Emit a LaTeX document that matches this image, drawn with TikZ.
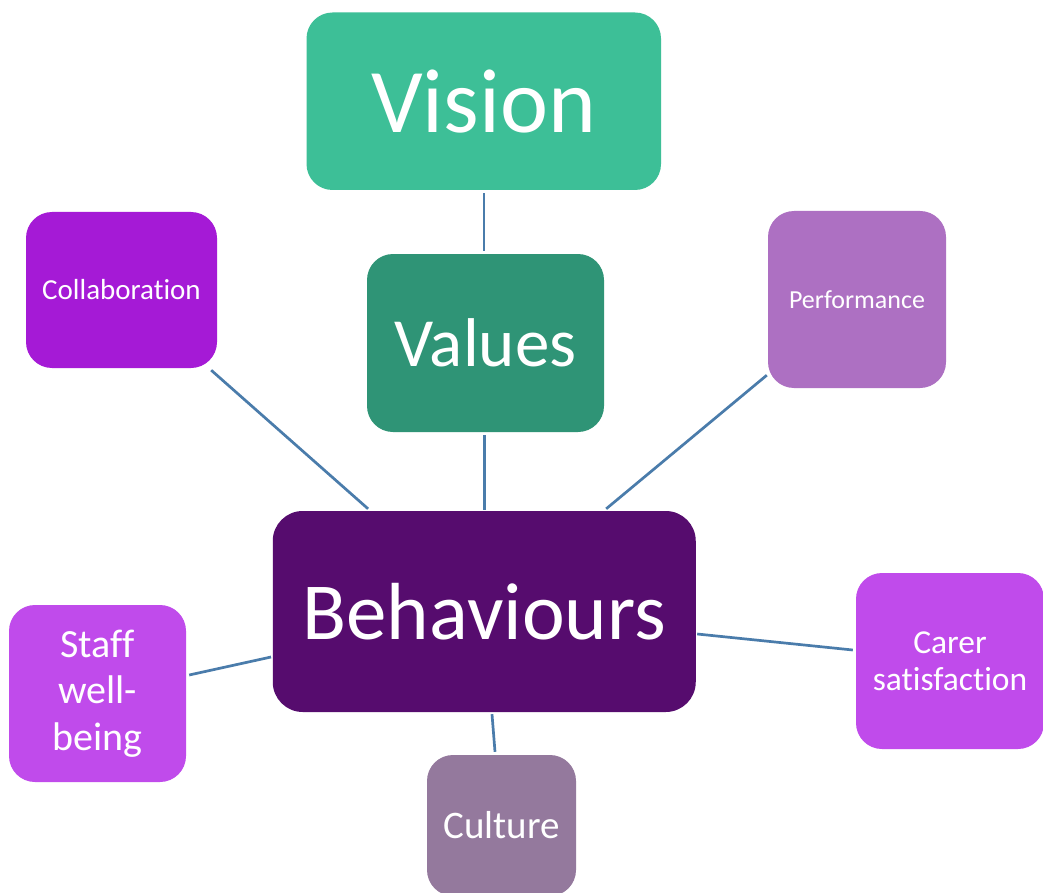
\documentclass[tikz,border=0pt]{standalone}
\usepackage{fontspec}
\setmainfont{Carlito}[Ligatures=NoCommon]
\usetikzlibrary{calc}

\definecolor{visionc}{HTML}{3DBF97}
\definecolor{valuesc}{HTML}{2F9476}
\definecolor{collabc}{HTML}{A51AD6}
\definecolor{perfc}{HTML}{AD70C2}
\definecolor{behc}{HTML}{560C6E}
\definecolor{brightc}{HTML}{C04BEB}
\definecolor{culturec}{HTML}{94799D}
\definecolor{linkc}{HTML}{4A7CAB}

\tikzset{
  card/.style={rounded corners=26pt, inner sep=0pt, text=white, align=center},
  link/.style={draw=linkc, line width=2.7pt},
}

\begin{document}
\begin{tikzpicture}[x=1pt, y=-1pt]
  \clip (0,0) rectangle (1043,893);
  \fill[white] (0,0) rectangle (1043,893);

  % central boxes
  \node[card, fill=visionc, minimum width=354.5pt, minimum height=177.5pt,
        font=\fontsize{91}{100}\selectfont] (vision) at (483.75,101.25) {Vision};
  \node[card, fill=valuesc, minimum width=237pt, minimum height=178pt,
        font=\fontsize{69}{76}\selectfont] (values) at (485.5,343) {Values};
  \node[card, rounded corners=30pt, fill=behc, minimum width=423pt, minimum height=201pt,
        font=\fontsize{81}{90}\selectfont] (beh) at (484.25,611.5) {Behaviours};

  % surrounding boxes
  \node[card, fill=collabc, minimum width=191pt, minimum height=156pt,
        font=\fontsize{29}{34}\selectfont] (collab) at (121.5,290) {Collaboration};
  \node[card, fill=perfc, minimum width=178pt, minimum height=177pt,
        font=\fontsize{26}{31}\selectfont] (perf) at (857,299.5) {Performance};
  \node[card, fill=brightc, minimum width=177pt, minimum height=177pt,
        font=\fontsize{40}{46.5}\selectfont] (staff) at (97.5,693.5) {Staff\\well-\\being};
  \node[card, fill=brightc, minimum width=188pt, minimum height=176pt,
        font=\fontsize{33.5}{37}\selectfont] (carer) at (950,661) {Carer\\satisfaction};
  \node[card, fill=culturec, minimum width=149pt, minimum height=141pt,
        font=\fontsize{39}{44}\selectfont] (culture) at (501.5,825.5) {Culture};

  % connectors
  \draw[link] ($(vision.south)+(0.25,3)$) -- ($(values.north)+(-1.5,-3)$);
  \draw[link] ($(values.south)+(-1,3)$) -- ($(beh.north)+(0.25,-1)$);
  \draw[link] ($(collab.south east)+(-6,2)$) -- ($(beh.north west)+(95.5,-2)$);
  \draw[link] ($(perf.south west)+(-1,-13)$) -- ($(beh.north east)+(-89.75,-2)$);
  \draw[link] ($(beh.east)+(1.25,22.5)$) -- ($(carer.west)+(-3,-11)$);
  \draw[link] ($(staff.east)+(3,-18.5)$) -- ($(beh.west)+(-1.5,45.5)$);
  \draw[link] ($(beh.south)+(7.75,2)$) -- ($(culture.north)+(-6.5,-3)$);
\end{tikzpicture}
\end{document}
